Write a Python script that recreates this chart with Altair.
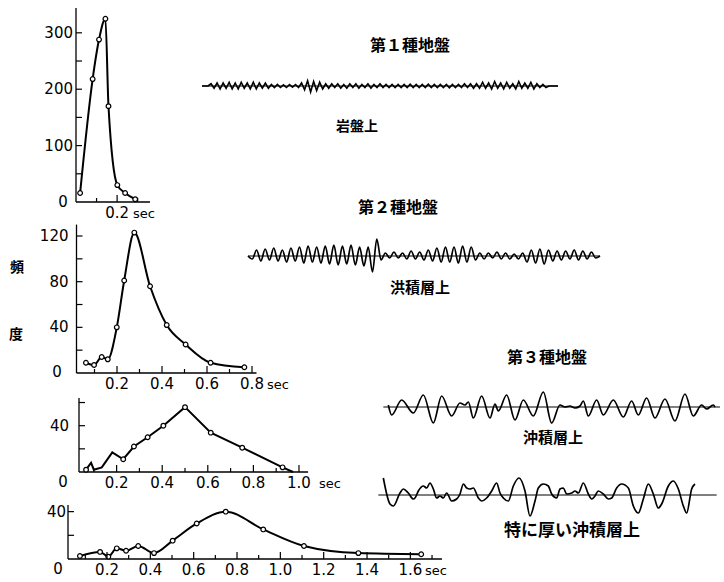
import altair as alt
import pandas as pd

W, H = 724, 582
NUM_FONT = "DejaVu Sans"
JP_FONT = "Noto Sans CJK JP"

# ---------- frequency distributions: predominant period (sec) vs number ----------
p1_period = [0.020, 0.081, 0.112, 0.143, 0.158, 0.201, 0.239, 0.288]
p1_count = [16, 218, 288, 325, 170, 30, 16, 5]
p1_mark = [1, 1, 1, 1, 1, 1, 1, 1]

p2_period = [0.062, 0.098, 0.132, 0.159, 0.199, 0.232, 0.277, 0.347, 0.421, 0.505, 0.616, 0.766]
p2_count = [9, 7, 14, 12, 40, 81, 123, 76, 42, 25, 9, 5]
p2_mark = [1, 1, 1, 1, 1, 1, 1, 1, 1, 1, 1, 1]

p3_period = [0.066, 0.088, 0.100, 0.135, 0.181, 0.229, 0.276, 0.336, 0.405, 0.500, 0.613, 0.751, 0.928, 0.974]
p3_count = [2, 8, 2, 4, 17, 11, 22, 30, 40, 56, 34, 21, 4, 0]
p3_mark = [1, 0, 0, 0, 0, 1, 1, 1, 1, 1, 1, 1, 1, 0]

p4_period = [0.075, 0.168, 0.206, 0.245, 0.288, 0.344, 0.417, 0.503, 0.614, 0.748, 0.921, 1.109, 1.360, 1.650]
p4_count = [2.5, 6, 2, 9, 7, 11, 5, 15.5, 30, 40, 25, 11, 5, 4]
p4_mark = [1, 1, 1, 1, 1, 1, 1, 1, 1, 1, 1, 1, 1, 1]

# axis tick values
p1_xlabels = [0.2]
p1_xticks = [0.1, 0.2, 0.3]
p1_ylabels = [100, 200, 300]
p1_yticks = [50, 100, 150, 200, 250, 300]

p2_xlabels = [0.2, 0.4, 0.6, 0.8]
p2_xticks = [0.1, 0.2, 0.3, 0.4, 0.5, 0.6, 0.7, 0.8]
p2_ylabels = [40, 80, 120]
p2_yticks = [20, 40, 60, 80, 100, 120]

p3_xlabels = [0.2, 0.4, 0.6, 0.8, 1.0]
p3_xticks = [0.1, 0.2, 0.3, 0.4, 0.5, 0.6, 0.7, 0.8, 0.9, 1.0]
p3_ylabels = [40]
p3_yticks = [20, 40, 60]

p4_xlabels = [0.2, 0.4, 0.6, 0.8, 1.0, 1.2, 1.4, 1.6]
p4_xticks = [0.1, 0.2, 0.3, 0.4, 0.5, 0.6, 0.7, 0.8, 0.9, 1.0, 1.1, 1.2, 1.3, 1.4, 1.5, 1.6, 1.7]
p4_ylabels = [40]
p4_yticks = [20, 40]

# ---------- seismogram traces (successive extremes / samples) ----------
w1_amp = [0, 0, 0,
          3, -3, 4, -4, 4, -3, 5, -4, 4, -4, 5, -3, 4, -4, 5, -4, 4, -3, 4, -3,
          2, -2, 2, -2, 1.5, -2, 2, -1.5, 2, -2,
          4, -5, 7, -8, 6, -6, 5, -4,
          3, -3, 3, -2, 3, -3, 2, -3, 3, -2, 3, -3, 2, -2, 3, -3, 2, -2, 3, -2, 2, -2,
          2, -2, 2, -2, 2, -2, 2.5, -2, 2, -2, 2, -2, 2.5, -2, 2, -2, 2, -2, 2, -2.5,
          2, -2, 2, -2, 3, -2, 3, -3, 3, -3,
          5, -3, 4, -4, 6, -3, 4, -4, 5, -3, 3, -4, 6, -3, 4, -3, 5, -4, 3, -2, 2, -2,
          0, 0, 0, 0]

w2_amp = [0,
          -3, 6, -5, 7, -4, 8,
          -5, 6, -6, 8, -5, 9, -7, 10, -6, 9, -7, 10,
          -8, 11, -9, 10, -8, 11, -9, 9, -10, 9,
          -16, 17, -4,
          3, -2, 4, -2, 3, -3, 5, -3, 4, -4, 6,
          -5, 8, -6, 9, -6, 9, -7, 10, -6, 9,
          -4, 3, -3, 3, -2, 4, -3, 3, -3, 2, -3, 3,
          -6, 6, -7, 7, -8, 6, -5, 5,
          -4, 5, -3, 6, -4, 5, -3, 4, -2,
          0]

w3_t = [2.5, 3.5, 6.5, 10, 13, 16, 18.5, 21.5, 24, 25.5, 26.5, 28, 30.5, 33, 34.5, 35.5, 38, 40.5,
        43, 46, 49, 51.5, 54, 55.5, 57, 58.5, 60, 61, 62.5, 65, 67, 70, 73, 75.5, 77.5, 80, 82.5,
        85.5, 88.5, 91.5, 94, 96.5, 98, 100, 100.5]
w3_amp = [2, -8, 7, -6, 12, -16, 11, -9, 4, 2, 5, -11, 11, -11, 3, -4, 12, -13,
          7, -9, 15, -16, 2, 0, 1, -1, 1, 6, -9, 7, -8, 7, -10, 6, -8, 9, -11,
          8, -14, 13, -9, 2, -2, 2, 0]

w4_t = [2.5, 4.5, 5.5, 7.5, 8.5, 10, 11.5, 12, 13, 14.5, 15.5, 16.5, 17.5, 18.5, 19.5, 20.5, 21.5,
        23, 24.5, 25.5, 26.5, 27.5, 28.5, 29.5, 31, 32, 33.5, 35, 36.5, 37.5, 38.5, 40, 41.5,
        43.2, 45, 46.5, 48, 49, 50.5, 52, 53, 54.5, 55.5, 56.5, 57.5, 59, 60, 61, 62.5, 64, 65,
        66, 67, 68.5, 70, 71, 72.5, 74, 76, 77.5, 79, 80.5, 82, 83.5, 85, 86, 88, 89.5, 91,
        92.5, 93.5, 95, 96]
w4_amp = [17, -9, -11, 2, 6, 2, -4, -3, 4, 9, 7, 12, 6, -3, -1, -3, 2,
          -6, -4, 1, 11, 7, 6, 7, -3, -6, -3, 4, 12, 2, -3, -6, 9,
          17, 4, -21, -6, 7, 11, 9, 1, -3, 6, 7, 1, 2, 4, 2, 12, 1, -4,
          -1, 4, 1, -4, -3, 7, 11, 7, -11, -18, -4, 11, 1, -13, -9, 9, 14, 6,
          -11, -18, 6, 11]

# ---------- texts ----------
ground_labels = ["第１種地盤", "岩盤上", "第２種地盤", "洪積層上", "第３種地盤", "沖積層上", "特に厚い沖積層上"]
ylabel_chars = ["頻", "度"]
unit_label = "sec"
zero_label = "0"

AXIS_W = 1.3


def panel(per, cnt, mk, xdom, xrng, ydom, yrng, xlab, xtk, ylab, ytk, ypad, interp):
    xs = alt.Scale(domain=xdom, range=xrng, nice=False, zero=False)
    ys = alt.Scale(domain=ydom, range=yrng, nice=False, zero=False)
    df = pd.DataFrame({"p": per, "c": cnt, "m": mk})
    line = alt.Chart(df).mark_line(color="black", strokeWidth=2, interpolate=interp).encode(
        x=alt.X("p:Q", scale=xs, axis=None),
        y=alt.Y("c:Q", scale=ys, axis=None),
    )
    pts = alt.Chart(df).transform_filter("datum.m == 1").mark_circle(
        size=22, fill="white", stroke="black", strokeWidth=1.2, opacity=1
    ).encode(
        x=alt.X("p:Q", scale=xs, axis=None),
        y=alt.Y("c:Q", scale=ys, axis=None),
    )
    # axis lines
    dom = pd.DataFrame({"x0": [xdom[0]], "x1": [xdom[1]], "y0": [ydom[0]], "y1": [ydom[1]]})
    xline = alt.Chart(dom).mark_rule(color="black", strokeWidth=AXIS_W).encode(
        x=alt.X("x0:Q", scale=xs, axis=None), x2=alt.X2("x1:Q"),
        y=alt.Y("y0:Q", scale=ys, axis=None))
    yline = alt.Chart(dom).mark_rule(color="black", strokeWidth=AXIS_W).encode(
        x=alt.X("x0:Q", scale=xs, axis=None),
        y=alt.Y("y0:Q", scale=ys, axis=None), y2=alt.Y2("y1:Q"))
    layers = [xline, yline, line, pts]
    # x ticks (pointing up, inside)
    labset = set(round(v, 2) for v in xlab)
    major = [v for v in xtk if round(v, 2) in labset]
    minor = [v for v in xtk if round(v, 2) not in labset]
    for vals, ln in ((major, 7), (minor, 4)):
        if not vals:
            continue
        tdf = pd.DataFrame({"v": vals, "z": [ydom[0]] * len(vals)})
        layers.append(
            alt.Chart(tdf).mark_rule(color="black", strokeWidth=1.2, y2Offset=-ln).encode(
                x=alt.X("v:Q", scale=xs, axis=None),
                y=alt.Y("z:Q", scale=ys, axis=None),
                y2=alt.Y2("z:Q"),
            )
        )
    # y ticks (pointing right, inside)
    ydf = pd.DataFrame({"v": ytk, "z": [xdom[0]] * len(ytk)})
    layers.append(
        alt.Chart(ydf).mark_rule(color="black", strokeWidth=1.2, x2Offset=6).encode(
            y=alt.Y("v:Q", scale=ys, axis=None),
            x=alt.X("z:Q", scale=xs, axis=None),
            x2=alt.X2("z:Q"),
        )
    )
    # x labels
    xl = pd.DataFrame({"v": xlab, "z": [ydom[0]] * len(xlab),
                       "s": [f"{v:.1f}" for v in xlab]})
    layers.append(
        alt.Chart(xl).mark_text(font=NUM_FONT, fontSize=15, color="black",
                                baseline="top", align="center", dy=4).encode(
            x=alt.X("v:Q", scale=xs, axis=None),
            y=alt.Y("z:Q", scale=ys, axis=None),
            text="s:N")
    )
    # y labels
    yl = pd.DataFrame({"v": ylab, "z": [xdom[0]] * len(ylab),
                       "s": [str(v) for v in ylab]})
    layers.append(
        alt.Chart(yl).mark_text(font=NUM_FONT, fontSize=15, color="black",
                                baseline="middle", align="right", dx=-ypad).encode(
            x=alt.X("z:Q", scale=xs, axis=None),
            y=alt.Y("v:Q", scale=ys, axis=None),
            text="s:N")
    )
    return alt.layer(*layers)


def wave(t, amp, dom, rng, base_y, half, t0, t1, interp, sw):
    xs = alt.Scale(domain=dom, range=rng, nice=False, zero=False)
    ys = alt.Scale(domain=[-half, half], range=[base_y + 30, base_y - 30], nice=False, zero=False)
    df = pd.DataFrame({"t": t, "a": amp})
    tr = alt.Chart(df).mark_line(color="black", strokeWidth=sw, interpolate=interp).encode(
        x=alt.X("t:Q", scale=xs, axis=None),
        y=alt.Y("a:Q", scale=ys, axis=None),
    )
    bdf = pd.DataFrame({"t0": [t0], "t1": [t1], "z": [0]})
    bl = alt.Chart(bdf).mark_rule(color="black", strokeWidth=1).encode(
        x=alt.X("t0:Q", scale=xs, axis=None),
        x2=alt.X2("t1:Q"),
        y=alt.Y("z:Q", scale=ys, axis=None),
    )
    return alt.layer(bl, tr)


def label(txt, x, y, size, font=JP_FONT, align="center", baseline="middle", weight="normal"):
    return alt.Chart(pd.DataFrame({"s": [txt]})).mark_text(
        font=font, fontSize=size, color="black", align=align, baseline=baseline,
        fontWeight=weight
    ).encode(text="s:N", x=alt.value(x), y=alt.value(y))


panels = [
    panel(p1_period, p1_count, p1_mark, [0, 0.36], [76, 150], [0, 344], [202, 8],
          p1_xlabels, p1_xticks, p1_ylabels, p1_yticks, 3, "monotone"),
    panel(p2_period, p2_count, p2_mark, [0.02, 0.82], [76.5, 256.5], [0, 130], [373, 224.6],
          p2_xlabels, p2_xticks, p2_ylabels, p2_yticks, 8, "monotone"),
    panel(p3_period, p3_count, p3_mark, [0.035, 1.04], [79, 308.1], [0, 64], [472, 397.9],
          p3_xlabels, p3_xticks, p3_ylabels, p3_yticks, 10, "linear"),
    panel(p4_period, p4_count, p4_mark, [0.02, 1.746], [68, 442], [0, 45.6], [559, 505],
          p4_xlabels, p4_xticks, p4_ylabels, p4_yticks, 2, "monotone"),
]

waves = [
    wave(list(range(len(w1_amp))), w1_amp, [0, len(w1_amp) - 1], [202, 558], 86, 40,
         0, len(w1_amp) - 1, "linear", 1.6),
    wave(list(range(len(w2_amp))), w2_amp, [0, len(w2_amp) - 1], [248, 600], 256, 30,
         0, len(w2_amp) - 1, "monotone", 1.7),
    wave(w3_t, w3_amp, [0, 103], [380, 723.3], 407, 30, 1, 102, "monotone", 1.7),
    wave(w4_t, w4_amp, [0, 104.7], [375, 724], 495, 30, 1, 102.5, "monotone", 1.7),
]

texts = [
    label(ground_labels[0], 410, 46, 16, weight="bold"),
    label(ground_labels[1], 357, 127, 14, weight="bold"),
    label(ground_labels[2], 398, 208, 16, weight="bold"),
    label(ground_labels[3], 420, 288, 15, weight="bold"),
    label(ground_labels[4], 547, 358, 16, weight="bold"),
    label(ground_labels[5], 553, 438, 15, weight="bold"),
    label(ground_labels[6], 572, 531, 17, weight="bold"),
    label(ylabel_chars[0], 17, 268, 14, weight="bold"),
    label(ylabel_chars[1], 16, 335, 14, weight="bold"),
    label(zero_label, 63, 202, 15, NUM_FONT),
    label(zero_label, 57, 372, 15, NUM_FONT),
    label(zero_label, 63, 482, 15, NUM_FONT),
    label(zero_label, 58, 569, 15, NUM_FONT),
    label(unit_label, 133, 218, 13, NUM_FONT, "left", "alphabetic"),
    label(unit_label, 267, 389, 13, NUM_FONT, "left", "alphabetic"),
    label(unit_label, 319, 488, 13, NUM_FONT, "left", "alphabetic"),
    label(unit_label, 425, 575, 13, NUM_FONT, "left", "alphabetic"),
]

chart = alt.layer(*panels, *waves, *texts).resolve_scale(
    x="independent", y="independent"
).properties(
    width=W, height=H, padding=0, autosize=alt.AutoSizeParams(type="none"),
    background="white",
).configure_view(stroke=None)

chart.save("out.html", embed_options={"renderer": "svg", "actions": False})
